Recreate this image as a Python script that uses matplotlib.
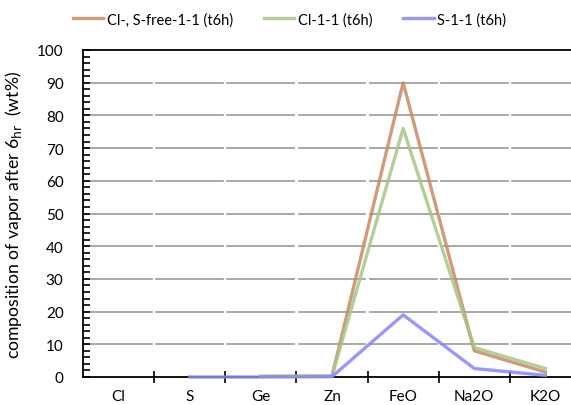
import numpy as np
import matplotlib
matplotlib.use("Agg")
import matplotlib.pyplot as plt

plt.rcParams['font.family'] = ['Lato', 'DejaVu Sans']

categories = ['Cl', 'S', 'Ge', 'Zn', 'FeO', 'Na2O', 'K2O']
cl_s_free = [np.nan, np.nan, 0.2, 0.3, 90.0, 8.0, 1.5]
cl_11 = [np.nan, np.nan, 0.2, 0.3, 76.0, 9.0, 2.6]
s_11 = [np.nan, 0.0, 0.0, 0.1, 19.0, 2.6, 0.5]

labels = ['Cl-, S-free-1-1 (t6h)', 'Cl-1-1 (t6h)', 'S-1-1 (t6h)']
colors = ['#C98A62', '#A6C684', '#8585FF']

fig = plt.figure(figsize=(5.71, 4.06), dpi=100)
ax = fig.add_axes([83/571, 28/406, 498/571, 327/406])

x = np.arange(len(categories))

# gridlines, broken at category boundaries like the original
gap = 0.03
for yv in range(10, 100, 10):
    for i in x:
        ax.plot([i - 0.5 + gap, i + 0.5 - gap], [yv, yv], color='#9a9a9a', lw=1.2, zorder=1)
ax.plot([-0.5, 6.5], [100, 100], color='black', lw=1.3, zorder=1, clip_on=False)

for vals, lab, col in zip([cl_s_free, cl_11, s_11], labels, colors):
    ax.plot(x, vals, color=col, lw=2.4, alpha=0.85, label=lab, zorder=3, clip_on=False)

ax.set_xlim(-0.5, 6.5)
ax.set_ylim(0, 100)
ax.set_yticks(range(0, 101, 10))
ax.set_yticks(range(0, 101, 2), minor=True)
ax.set_xticks(x)
ax.set_xticklabels(categories)
ax.set_xticks(x[:-1] + 0.5, minor=True)

ax.tick_params(axis='y', which='both', direction='in', length=5, width=1.2, labelsize=11, pad=14)
ax.tick_params(axis='x', which='major', length=0, labelsize=11, pad=9)
ax.tick_params(axis='x', which='minor', direction='inout', length=8, width=1.2)

for s in ['top', 'right']:
    ax.spines[s].set_visible(False)
for s in ['left', 'bottom']:
    ax.spines[s].set_linewidth(1.3)
    ax.spines[s].set_zorder(2)

ax.set_ylabel('composition of vapor after 6$_{\\mathrm{hr}}$  (wt%)', fontsize=12.7, labelpad=9)

fig.legend(loc='upper center', bbox_to_anchor=(0.507, 1.0), ncol=3, frameon=False,
           fontsize=10.5, handlelength=2.1, columnspacing=2.1, handletextpad=0.25)

fig.savefig('out.png', dpi=100)
